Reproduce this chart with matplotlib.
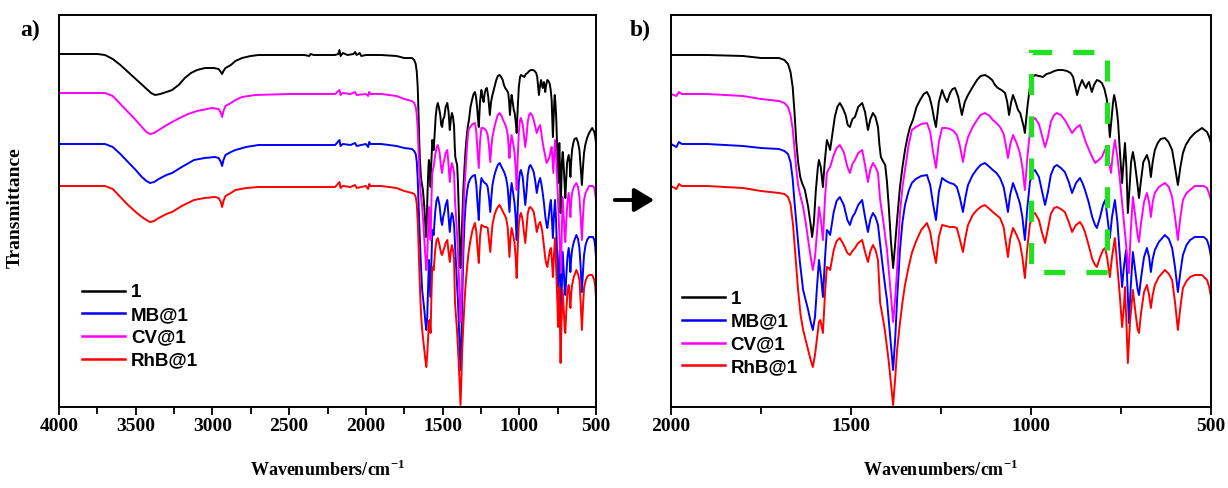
import matplotlib
matplotlib.use("Agg")
import matplotlib.pyplot as plt
from matplotlib.patches import Rectangle, FancyArrowPatch
from matplotlib.ticker import MultipleLocator

plt.rcParams["mathtext.fontset"] = "custom"
plt.rcParams["mathtext.rm"] = "Liberation Serif"
plt.rcParams["mathtext.bf"] = "Liberation Serif:bold"

# ---- data: (wavenumber cm-1, transmittance a.u., curves stacked as in the figure) ----
spec_1 = [(4000,353),(3750,353),(3700,352),(3650,348),(3600,342),(3550,335),(3500,328),(3450,321),(3400,314),(3374,312),(3340,313),(3300,315),(3263,317),(3220,322),(3180,329),(3140,334),(3100,337),(3048,339),(2990,339),(2960,338),(2945,335),(2937,333),(2928,336),(2915,339),(2880,342),(2850,346),(2807,349),(2750,351),(2700,352),(2400,352),(2370,351),(2360,353),(2340,352),(2200,352),(2180,353),(2172,357),(2165,351),(2150,354),(2120,352),(2080,353),(2070,355),(2060,352),(2040,354),(2030,351),(2000,352),(1900,352),(1800,351),(1750,349),(1700,349),(1685,347),(1675,343),(1668,335),(1662,320),(1657,295),(1652,265),(1647,245),(1641,230),(1636,224),(1628,217),(1619,200),(1612,182),(1608,170),(1603,185),(1598,215),(1592,240),(1589,247),(1584,240),(1578,220),(1573,245),(1567,267),(1562,262),(1558,257),(1552,272),(1545,290),(1538,300),(1531,304),(1523,299),(1515,292),(1509,282),(1503,280),(1496,288),(1489,290),(1480,300),(1469,304),(1461,295),(1453,277),(1446,288),(1439,294),(1432,290),(1425,280),(1421,262),(1417,250),(1410,245),(1405,242),(1400,225),(1395,200),(1389,165),(1383,139),(1378,160),(1372,187),(1364,220),(1357,240),(1350,257),(1343,270),(1336,280),(1328,287),(1318,300),(1308,307),(1298,313),(1289,315),(1282,310),(1275,300),(1269,288),(1264,280),(1256,305),(1247,317),(1240,310),(1233,305),(1225,314),(1218,318),(1211,319),(1202,310),(1192,292),(1184,305),(1175,312),(1162,320),(1150,327),(1140,331),(1128,332),(1118,330),(1108,327),(1100,322),(1092,319),(1082,317),(1072,314),(1066,305),(1061,292),(1055,305),(1050,312),(1043,305),(1036,297),(1030,294),(1025,287),(1020,280),(1017,274),(1010,300),(1003,320),(995,330),(989,332),(978,331),(967,330),(957,333),(947,334),(935,336),(925,337),(912,337),(900,336),(890,334),(883,330),(877,320),(872,312),(866,320),(858,327),(852,322),(847,319),(843,323),(839,325),(835,320),(831,315),(825,322),(817,327),(810,326),(803,324),(796,318),(789,307),(785,290),(781,270),(776,290),(772,305),(769,312),(765,305),(761,295),(758,284),(753,255),(747,224),(743,245),(739,264),(735,240),(731,194),(727,215),(722,245),(717,255),(712,245),(705,225),(700,209),(695,225),(688,245),(678,252),(672,245),(667,230),(662,245),(656,257),(648,264),(640,268),(628,269),(618,265),(608,257),(600,240),(592,222),(585,240),(578,254),(570,262),(558,269),(545,274),(525,279),(511,275),(505,270),(500,264)]

spec_cv = [(4000,314),(3700,314),(3650,311),(3600,303),(3550,295),(3500,287),(3460,280),(3430,275),(3407,273),(3380,274),(3350,277),(3309,281),(3250,286),(3200,290),(3159,293),(3100,296),(3003,299),(2960,298),(2945,294),(2937,290),(2928,296),(2915,301),(2880,304),(2850,307),(2807,310),(2722,312),(2500,313),(2200,313),(2172,317),(2165,312),(2150,314),(2100,313),(2070,315),(2060,312),(2000,313),(1985,311),(1978,315),(1970,313),(1900,313),(1800,311),(1750,308),(1700,306),(1685,304),(1675,300),(1668,292),(1662,278),(1657,258),(1652,238),(1647,222),(1640,210),(1633,200),(1626,185),(1619,167),(1612,150),(1606,137),(1600,150),(1595,172),(1589,200),(1583,185),(1578,167),(1572,210),(1567,234),(1562,238),(1558,240),(1548,252),(1540,259),(1531,262),(1520,255),(1510,240),(1503,234),(1496,243),(1489,247),(1480,254),(1469,257),(1461,242),(1453,225),(1446,238),(1439,244),(1432,240),(1425,234),(1419,207),(1410,185),(1400,157),(1391,120),(1383,85),(1377,110),(1372,137),(1364,194),(1357,220),(1350,237),(1340,262),(1331,277),(1320,280),(1305,283),(1289,284),(1280,275),(1272,255),(1264,239),(1256,265),(1247,279),(1236,279),(1225,278),(1215,276),(1206,272),(1198,262),(1189,245),(1182,260),(1175,270),(1162,280),(1150,287),(1140,292),(1128,294),(1115,291),(1106,287),(1096,284),(1086,280),(1076,273),(1070,262),(1064,249),(1058,262),(1050,272),(1040,264),(1031,254),(1024,240),(1017,217),(1010,250),(1003,275),(995,287),(989,289),(978,283),(970,272),(961,260),(953,270),(945,285),(936,292),(928,294),(917,292),(906,287),(895,280),(886,274),(875,279),(864,282),(857,275),(850,267),(840,258),(830,250),(822,244),(812,247),(803,250),(795,257),(789,260),(783,245),(778,234),(772,255),(767,267),(760,250),(753,227),(746,200),(739,174),(734,155),(728,134),(723,175),(717,210),(710,190),(704,172),(700,165),(694,185),(686,205),(678,214),(672,205),(667,190),(662,205),(656,214),(645,220),(628,224),(617,220),(608,210),(600,190),(592,167),(585,190),(578,207),(568,214),(558,217),(545,221),(531,221),(520,221),(511,219),(505,213),(500,207)]

spec_mb = [(4000,263),(3700,263),(3650,260),(3600,253),(3550,245),(3500,237),(3460,230),(3430,226),(3407,224),(3380,225),(3350,228),(3300,232),(3263,234),(3200,240),(3120,247),(3050,249),(2983,250),(2960,249),(2945,245),(2937,241),(2928,247),(2915,252),(2880,255),(2850,257),(2780,260),(2700,262),(2500,262),(2200,262),(2172,267),(2165,261),(2150,263),(2100,262),(2070,264),(2060,261),(2000,263),(1985,260),(1978,265),(1970,263),(1900,263),(1800,261),(1750,259),(1700,258),(1685,256),(1675,253),(1668,245),(1662,228),(1657,205),(1650,177),(1642,145),(1633,117),(1626,107),(1619,97),(1612,85),(1606,77),(1600,90),(1595,117),(1589,147),(1583,130),(1578,110),(1572,150),(1567,177),(1562,175),(1558,172),(1548,195),(1540,206),(1531,210),(1520,202),(1510,187),(1503,182),(1496,190),(1489,194),(1480,202),(1469,207),(1461,190),(1453,175),(1446,188),(1439,194),(1432,190),(1425,182),(1415,150),(1405,120),(1400,107),(1391,70),(1383,37),(1377,70),(1372,107),(1364,157),(1357,185),(1350,202),(1340,216),(1331,224),(1320,228),(1305,231),(1289,232),(1280,222),(1272,203),(1264,187),(1256,215),(1247,229),(1236,226),(1225,224),(1215,223),(1206,220),(1198,210),(1189,195),(1182,210),(1175,222),(1162,232),(1150,238),(1140,242),(1128,244),(1115,240),(1106,237),(1096,234),(1086,229),(1076,220),(1070,208),(1064,195),(1058,212),(1050,224),(1040,214),(1031,204),(1024,190),(1017,167),(1010,200),(1003,225),(995,235),(989,237),(978,230),(970,217),(961,202),(953,215),(945,232),(936,240),(928,242),(917,239),(906,235),(895,225),(886,214),(875,224),(864,229),(857,224),(850,217),(840,205),(830,190),(822,182),(817,179),(808,190),(800,202),(794,207),(788,190),(781,169),(775,190),(767,207),(760,185),(753,150),(747,120),(742,140),(736,157),(732,120),(728,84),(723,120),(717,155),(710,135),(704,118),(700,112),(694,130),(686,150),(678,159),(672,150),(667,135),(662,148),(656,157),(645,165),(628,172),(617,168),(608,159),(600,140),(592,115),(585,135),(578,152),(568,162),(558,167),(545,170),(531,170),(520,170),(511,167),(505,160),(500,150)]

spec_rhb = [(4000,221),(3700,221),(3650,218),(3600,210),(3550,202),(3500,195),(3460,190),(3430,187),(3407,185),(3380,186),(3350,189),(3300,193),(3263,195),(3200,201),(3120,207),(3050,209),(2983,210),(2960,209),(2945,205),(2937,200),(2928,206),(2915,211),(2880,214),(2850,217),(2780,219),(2700,220),(2500,220),(2200,220),(2172,225),(2165,219),(2150,221),(2100,220),(2070,222),(2060,219),(2000,221),(1985,218),(1978,223),(1970,221),(1900,221),(1800,219),(1750,216),(1700,214),(1685,213),(1675,210),(1668,203),(1661,182),(1654,150),(1647,117),(1640,92),(1633,77),(1626,67),(1619,57),(1612,47),(1606,40),(1600,52),(1595,67),(1589,85),(1585,87),(1580,78),(1578,74),(1572,115),(1567,140),(1562,139),(1558,137),(1548,157),(1540,166),(1531,169),(1520,162),(1510,154),(1503,152),(1496,156),(1489,159),(1480,164),(1469,167),(1461,155),(1453,145),(1446,156),(1439,162),(1432,157),(1425,147),(1419,104),(1412,90),(1406,77),(1395,45),(1383,2),(1377,30),(1372,57),(1364,84),(1357,105),(1350,122),(1340,140),(1331,154),(1320,165),(1305,177),(1289,184),(1280,175),(1272,158),(1264,144),(1256,170),(1247,182),(1236,181),(1225,180),(1215,180),(1206,179),(1198,168),(1189,155),(1182,170),(1175,182),(1162,192),(1150,197),(1140,200),(1128,202),(1115,198),(1106,195),(1096,192),(1086,189),(1076,180),(1070,165),(1064,150),(1058,168),(1050,179),(1040,172),(1031,164),(1024,150),(1017,129),(1010,160),(1003,183),(995,192),(989,194),(978,187),(970,175),(961,164),(953,178),(945,193),(936,199),(928,200),(917,198),(906,195),(895,185),(886,175),(875,182),(864,185),(857,181),(850,175),(840,162),(830,148),(822,142),(817,140),(808,150),(800,157),(794,159),(788,148),(781,130),(775,150),(767,169),(760,140),(753,110),(747,80),(742,100),(739,120),(735,85),(731,44),(725,85),(717,117),(710,95),(704,78),(700,74),(694,95),(686,115),(678,122),(672,112),(667,99),(662,112),(656,122),(645,130),(628,137),(617,133),(608,127),(600,105),(592,77),(585,100),(578,119),(568,126),(558,130),(545,132),(525,132),(511,127),(505,120),(500,110)]

series_labels = ["1", "MB@1", "CV@1", "RhB@1"]
series_colors = ["black", "#0000ff", "#ff00ff", "#ff0000"]
series_data = [spec_1, spec_mb, spec_cv, spec_rhb]

xtick_a = [4000, 3500, 3000, 2500, 2000, 1500, 1000, 500]
xtick_b = [2000, 1500, 1000, 500]
highlight_x = (790, 1000)   # boxed region in b (cm-1)
highlight_y = (135, 355)

# ---- figure ----
W, H = 1228, 488
fig = plt.figure(figsize=(W / 100, H / 100), dpi=100)
serif = ["Liberation Serif", "DejaVu Serif"]
sans = ["Liberation Sans", "DejaVu Sans"]

ax_a = fig.add_axes([59 / W, (H - 407) / H, 537 / W, 392 / H])
ax_b = fig.add_axes([671 / W, (H - 407) / H, 540 / W, 392 / H])

for ax, xlim, ticks, leg_anchor in [(ax_a, (4000, 500), xtick_a, (0.012, 0.053)),
                                     (ax_b, (2000, 500), xtick_b, (-0.011, 0.036))]:
    for data, c, lab in zip(series_data, series_colors, series_labels):
        xs = [p[0] for p in data]
        ys = [p[1] for p in data]
        ax.plot(xs, ys, color=c, lw=1.4, label=lab, solid_joinstyle="round")
    ax.set_xlim(*xlim)
    ax.set_ylim(0, 392)
    ax.set_yticks([])
    ax.set_xticks(ticks)
    ax.xaxis.set_minor_locator(MultipleLocator(250))
    ax.tick_params(axis="x", which="major", direction="out", length=6, width=1.3, pad=2)
    ax.tick_params(axis="x", which="minor", direction="out", length=5, width=1.3)
    for lbl in ax.get_xticklabels():
        lbl.set_fontfamily(serif)
        lbl.set_fontweight("bold")
        lbl.set_fontsize(14)
    for sp in ax.spines.values():
        sp.set_linewidth(1.4)
    pos = ax.get_position()
    fig.text((pos.x0 + pos.x1) / 2, 1 - 470 / H, "Wavenumbers/cm$^{\\mathbf{-1}}$",
             fontfamily=serif, fontweight="bold", fontsize=13, ha="center", va="center")
    leg = ax.legend(loc="lower left", bbox_to_anchor=leg_anchor, frameon=False,
                    handlelength=2.3, handletextpad=0.3, labelspacing=0.3,
                    prop={"family": sans, "weight": "bold", "size": 13.5})
    for h in leg.get_lines():
        h.set_linewidth(1.8)

fig.text(15 / W, 1 - 208 / H, "Transmittance", fontfamily=serif, fontweight="bold",
         fontsize=14, rotation=90, ha="center", va="center")

ax_b.add_patch(Rectangle((highlight_x[0], highlight_y[0]),
                         highlight_x[1] - highlight_x[0], highlight_y[1] - highlight_y[0],
                         fill=False, edgecolor="#22e022", lw=3.8,
                         linestyle=(0, (4.0, 4.0)), zorder=5))

fig.text(30 / W, 1 - 30 / H, "a)", fontfamily=serif, fontweight="bold", fontsize=17,
         ha="center", va="center")
fig.text(640 / W, 1 - 30 / H, "b)", fontfamily=serif, fontweight="bold", fontsize=17,
         ha="center", va="center")

fig.patches.append(FancyArrowPatch(
    (612 / W, 1 - 200 / H), (657 / W, 1 - 200 / H), transform=fig.transFigure,
    arrowstyle="-|>,head_length=10,head_width=6", mutation_scale=1.2,
    color="black", lw=2.8))

fig.savefig("out.png", dpi=100)
